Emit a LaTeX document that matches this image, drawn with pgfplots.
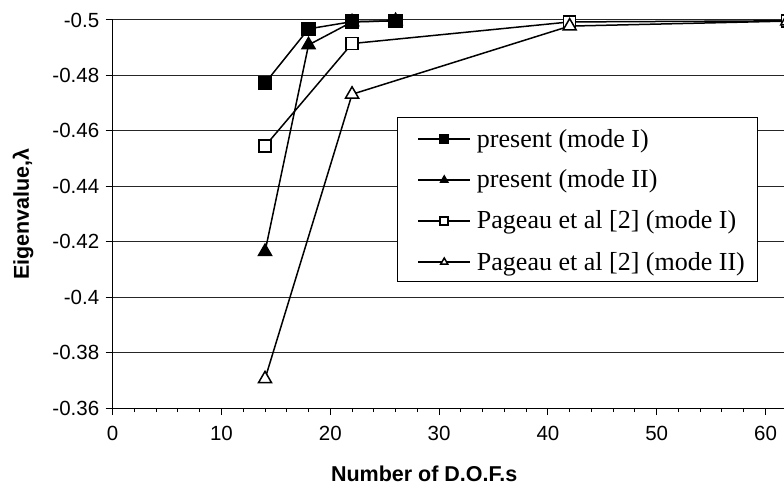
\documentclass[border=0pt]{standalone}
\usepackage{pgfplots}
\pgfplotsset{compat=1.18}
\usepackage{fontspec}
\setmainfont{Liberation Serif}
\newfontfamily\arial{Liberation Sans}

\begin{document}
\begin{tikzpicture}
\begin{axis}[
  scale only axis,
  width=671.3pt, height=388pt,
  xmin=0, xmax=61.7,
  ymin=-0.5, ymax=-0.36,
  y dir=reverse,
  clip=false,
  axis x line*=bottom, axis y line*=left,
  axis line style={-, line width=1pt, black},
  xtick={0,10,...,60},
  xticklabels={0,10,20,30,40,50,60},
  minor xtick={2,4,...,60},
  ytick={-0.5,-0.48,-0.46,-0.44,-0.42,-0.4,-0.38,-0.36},
  yticklabels={-0.5,-0.48,-0.46,-0.44,-0.42,-0.4,-0.38,-0.36},
  tick align=outside,
  major tick length=7pt, minor tick length=4pt,
  every tick/.style={black, line width=1pt},
  ymajorgrids,
  major grid style={black!85, line width=1pt},
  tick label style={font=\arial\fontsize{20.5}{24}\selectfont},
  yticklabel style={xshift=-3pt},
  xticklabel style={yshift=-8pt},
  xlabel={Number of D.O.F.s},
  xlabel style={font=\arial\bfseries\fontsize{21.5}{25}\selectfont, at={(axis description cs:0.464,-0.170)}, anchor=center},
  ylabel={Eigenvalue,λ},
  ylabel style={font=\arial\bfseries\fontsize{21.5}{25}\selectfont, at={(axis description cs:-0.1336,0.5)}, anchor=center, rotate=0},
  legend style={at={(axis description cs:0.4235,0.75)}, anchor=north west, draw=black, line width=1pt, fill=white,
    font=\fontsize{26}{30}\selectfont, inner xsep=13pt, inner ysep=0pt, row sep=0pt,
    cells={anchor=west},
    nodes={inner sep=0pt, text height=29.5pt, text depth=11.5pt},
    /tikz/every odd column/.append style={column sep=6pt}},
  legend image code/.code={
    \path (-7pt,-1pt);
    \draw[mark repeat=2, mark phase=2, #1, mark size=4pt] plot coordinates {(0pt,-1pt) (26pt,-1pt) (52pt,-1pt)};},
]
\addplot[black, line width=1.5pt, mark=square*, mark size=6.5pt, mark options={solid, fill=black}]
  coordinates {(14,-0.4772) (18,-0.4968) (22,-0.4994) (26,-0.4997)};
\addlegendentry{present (mode I)}
\addplot[black, line width=1.5pt, mark=triangle*, mark size=7.5pt, mark options={solid, fill=black}]
  coordinates {(14,-0.4164) (18,-0.4910) (22,-0.4993) (26,-0.4997)};
\addlegendentry{present (mode II)}
\addplot[black, line width=1.5pt, mark=square*, mark size=6pt, mark options={solid, fill=white}]
  coordinates {(14,-0.4545) (22,-0.4915) (42,-0.4993) (62,-0.4997)};
\addlegendentry{Pageau et al [2] (mode I)}
\addplot[black, line width=1.5pt, mark=triangle*, mark size=7.5pt, mark options={solid, fill=white}]
  coordinates {(14,-0.3705) (22,-0.4732) (42,-0.4978) (62,-0.4996)};
\addlegendentry{Pageau et al [2] (mode II)}
\coordinate (bl) at (axis description cs:0,0);
\coordinate (tr) at (axis description cs:1,1);
\end{axis}
\pgfresetboundingbox
\useasboundingbox ([shift={(-112.7pt,-86pt)}]bl) rectangle ([shift={(0pt,20pt)}]tr);
\end{tikzpicture}
\end{document}
